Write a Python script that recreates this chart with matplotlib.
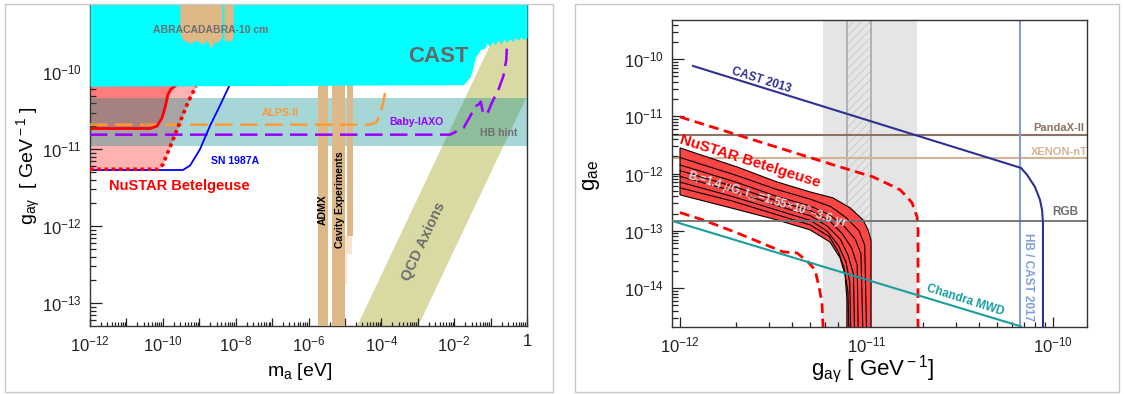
import matplotlib
matplotlib.use("Agg")
import matplotlib.pyplot as plt
import numpy as np
from matplotlib.patches import Rectangle
from matplotlib.ticker import LogLocator, FixedLocator, FuncFormatter, NullFormatter

plt.rcParams["font.family"] = ["Liberation Sans", "DejaVu Sans"]
plt.rcParams["mathtext.fontset"] = "custom"
plt.rcParams["mathtext.rm"] = "Liberation Sans"
plt.rcParams["mathtext.it"] = "Liberation Sans:italic"
plt.rcParams["mathtext.bf"] = "Liberation Sans:bold"
plt.rcParams["hatch.linewidth"] = 0.6

# ---------------- left panel: g_agamma vs m_a (all values log10) ----------------
cast_logm = [-12, -1.75, -1.56, -1.48, -1.42, -1.29, -1.15, -1.1, -1.03, -0.95, -0.88,
             -0.8, -0.72, -0.63, -0.55, -0.47, -0.4, -0.32, -0.25, -0.17, -0.1, 0]
cast_logg = [-10.18, -10.16, -10.06, -9.93, -9.81, -9.71, -9.68, -9.62, -9.66, -9.60, -9.64,
             -9.58, -9.63, -9.57, -9.61, -9.56, -9.60, -9.55, -9.58, -9.54, -9.57, -9.55]

abra_logm_a = [-9.53, -9.45, -9.25, -9.06, -8.92, -8.79, -8.68, -8.62, -8.48, -8.37]
abra_logg_a = [-9.49, -9.58, -9.62, -9.58, -9.64, -9.58, -9.69, -9.62, -9.60, -9.54]
abra_logm_b = [-8.32, -8.15, -8.07]
abra_logg_b = [-9.58, -9.60, -9.54]

nustar_solid_logm = [-12, -10.35, -10.16, -10.02, -9.94, -9.86, -9.78, -9.67]
nustar_solid_logg = [-10.73, -10.73, -10.70, -10.59, -10.46, -10.29, -10.22, -10.18]
nustar_dot_logm = [-12, -10.13, -10.0, -9.75, -9.53, -9.31, -9.09]
nustar_dot_logg = [-11.26, -11.26, -11.2, -10.91, -10.65, -10.39, -10.18]

sn_logm = [-12, -9.45, -9.25, -8.98, -8.70, -8.48, -8.24, -8.13]
sn_logg = [-11.27, -11.27, -11.21, -11.0, -10.69, -10.48, -10.24, -10.13]

alps_logm = [-12, -4.31, -4.14, -4.03, -3.95, -3.87]
alps_logg = [-10.68, -10.68, -10.65, -10.55, -10.39, -10.2]

iaxo_logm = [-12, -2.11, -1.74, -1.56, -1.42, -1.33, -1.27, -1.21, -1.10, -0.96, -0.78,
             -0.65, -0.57, -0.55]
iaxo_logg = [-10.81, -10.81, -10.72, -10.57, -10.44, -10.42, -10.38, -10.52, -10.55, -10.39,
             -10.22, -10.05, -9.84, -9.66]

hb_hint_logg = (-10.96, -10.33)

admx_logm = (-5.74, -5.46)
cavity_logm = (-5.35, -5.0)
cavity2_logm = (-4.94, -4.77)
cavity2_bottom_logg = -12.13
cavity_light_logm = [(-4.93, -4.80), (-5.0, -4.95), (-5.05, -5.0)]
cavity_light_logg = [-12.36, -12.75, -13.2]

qcd_top_logm = [-4.665, 0]
qcd_top_logg = [-13.30, -8.635]
qcd_bot_logm = [-2.99, 0]
qcd_bot_logg = [-13.30, -10.31]

# ---------------- right panel: g_ae vs g_agamma (all values log10) ----------------
gray_band = (-11.233, -10.729)
hatch_band = (-11.105, -10.976)
pandax_logg = -11.326
xenon_logg = -11.728
rgb_logg = -12.822
hb_cast17_logx = -10.177

cast13_logx = [-11.93, -10.172, -10.139, -10.097, -10.070, -10.059, -10.054, -10.054]
cast13_logy = [-10.122, -11.902, -12.024, -12.234, -12.461, -12.635, -12.862, -14.7]

chandra_logx = [-12.03, -10.172]
chandra_logy = [-12.84, -14.67]

proj_hi_logx = [-12.0, -11.142, -10.965, -10.874, -10.820, -10.783, -10.756, -10.729, -10.724, -10.724]
proj_hi_logy = [-11.012, -11.885, -12.059, -12.199, -12.286, -12.408, -12.513, -12.757, -12.984, -14.7]
proj_lo_logx = [-12.0, -11.877, -11.694, -11.448, -11.373, -11.314, -11.276, -11.255, -11.239, -11.233]
proj_lo_logy = [-12.682, -12.810, -13.037, -13.368, -13.386, -13.543, -13.682, -13.979, -14.258, -14.7]

band_up_logx = [-12.0, -11.694, -11.480, -11.303, -11.180, -11.088, -11.019, -10.992, -10.976, -10.976]
band_up_logy = [-11.553, -11.885, -12.147, -12.321, -12.426, -12.600, -12.810, -12.984, -13.16, -14.7]
band_lo_logx = [-12.0, -11.748, -11.480, -11.303, -11.196, -11.142, -11.115, -11.105, -11.105]
band_lo_logy = [-12.373, -12.583, -12.810, -12.984, -13.194, -13.473, -13.770, -14.206, -14.7]

band_inner_logx = [
    [-12.0, -11.70, -11.48, -11.30, -11.19, -11.11, -11.04, -11.01, -11.00],
    [-12.0, -11.70, -11.48, -11.30, -11.20, -11.12, -11.06, -11.03, -11.02],
    [-12.0, -11.70, -11.48, -11.30, -11.20, -11.13, -11.08, -11.05, -11.045],
    [-12.0, -11.70, -11.48, -11.30, -11.21, -11.14, -11.10, -11.07, -11.065],
    [-12.0, -11.72, -11.48, -11.30, -11.21, -11.15, -11.11, -11.09, -11.085],
    [-12.0, -11.72, -11.48, -11.30, -11.20, -11.15, -11.12, -11.10, -11.095],
]
band_inner_logy = [
    [-11.72, -12.03, -12.28, -12.45, -12.58, -12.77, -13.00, -13.25, -14.7],
    [-11.85, -12.15, -12.40, -12.57, -12.72, -12.92, -13.15, -13.40, -14.7],
    [-11.95, -12.24, -12.48, -12.65, -12.82, -13.05, -13.30, -13.60, -14.7],
    [-12.05, -12.32, -12.56, -12.74, -12.92, -13.15, -13.42, -13.75, -14.7],
    [-12.15, -12.40, -12.64, -12.82, -13.01, -13.26, -13.55, -13.90, -14.7],
    [-12.25, -12.48, -12.72, -12.90, -13.10, -13.37, -13.66, -14.05, -14.7],
]

left_xticks = list(range(-12, 1))
left_yticks = [-13, -12, -11, -10]
right_xticks = [-12, -11, -10]
right_yticks = [-14, -13, -12, -11, -10]


def p(v):
    return 10.0 ** np.asarray(v, dtype=float)


W, H = 1124, 394
fig = plt.figure(figsize=(W / 100, H / 100), dpi=100)


def px_axes(left, top, right, bottom):
    return fig.add_axes([left / W, 1 - bottom / H, (right - left) / W, (bottom - top) / H])


# panel frames
for l, r in [(5, 553), (575, 1119)]:
    fig.patches.append(Rectangle((l / W, 1 - 392 / H), (r - l) / W, (392 - 4) / H,
                                 transform=fig.transFigure, fill=False,
                                 edgecolor="#c8c8c8", lw=1.0))


def log_axis_style(ax, xticks, yticks, ylen, xlen):
    for s in ax.spines.values():
        s.set_linewidth(1.0)
        s.set_color("#333333")
    ax.tick_params(which="both", direction="in", top=False, right=False, width=0.9,
                   labelsize=12, colors="#222222")
    ax.tick_params(axis="y", which="major", length=ylen[0], pad=6)
    ax.tick_params(axis="y", which="minor", length=ylen[1])
    ax.tick_params(axis="x", which="major", length=xlen[0], pad=6)
    ax.tick_params(axis="x", which="minor", length=xlen[1])
    ax.xaxis.set_major_locator(FixedLocator(p(xticks)))
    ax.yaxis.set_major_locator(FixedLocator(p(yticks)))
    for a in (ax.xaxis, ax.yaxis):
        a.set_minor_locator(LogLocator(base=10, subs=np.arange(2, 10), numticks=100))
        a.set_minor_formatter(NullFormatter())


def pow_label(v, pos):
    e = int(round(np.log10(v)))
    return r"$10^{%d}$" % e


# ================= left panel =================
ax1 = px_axes(90, 5, 527, 326)
ax1.set_xscale("log")
ax1.set_yscale("log")
ax1.set_xlim(1e-12, 1)
ax1.set_ylim(p(-13.298), p(-9.124))

# QCD axion band
qx = np.concatenate([p(qcd_top_logm), p(qcd_bot_logm)[::-1]])
qy = np.concatenate([p(qcd_top_logg), p(qcd_bot_logg)[::-1]])
ax1.fill(qx, qy, color="#d9d9a3", lw=0, zorder=1)

# NuSTAR Betelgeuse excluded regions
ax1.fill_between(p(nustar_dot_logm), p(nustar_dot_logg), 1e-8, color="red", alpha=0.3, lw=0, zorder=1.2)
ax1.fill_between(p(nustar_solid_logm), p(nustar_solid_logg), 1e-8, color="red", alpha=0.3, lw=0, zorder=1.3)

# HB hint
ax1.axhspan(p(hb_hint_logg[0]), p(hb_hint_logg[1]), color=(0, 0.545, 0.545), alpha=0.35, lw=0, zorder=2)

# haloscopes
tan = "#deb887"
ax1.axvspan(p(admx_logm[0]), p(admx_logm[1]), color=tan, lw=0, zorder=3)
ax1.axvspan(p(cavity_logm[0]), p(cavity_logm[1]), color=tan, lw=0, zorder=3)
ax1.fill_between(p(cavity2_logm), p(cavity2_bottom_logg), 1e-8, color=tan, lw=0, zorder=3)
for (m0, m1), gb in zip(cavity_light_logm, cavity_light_logg):
    ax1.fill_between(p([m0, m1]), p(gb), p(cavity2_bottom_logg), color="#f6e6d0", lw=0, zorder=2.9)

# limit / sensitivity curves
ax1.plot(p(alps_logm), p(alps_logg), color="#ff9933", lw=1.8, dashes=(7, 3), zorder=4)
ax1.plot(p(iaxo_logm), p(iaxo_logg), color="#9900ff", lw=1.8, dashes=(7, 3), zorder=4)
ax1.plot(p(sn_logm), p(sn_logg), color="#0000ff", lw=1.3, zorder=4)
ax1.plot(p(nustar_solid_logm), p(nustar_solid_logg), color="red", lw=2.0, zorder=4.2)
ax1.plot(p(nustar_dot_logm), p(nustar_dot_logg), color="red", lw=2.6,
         linestyle=(0, (1, 1)), zorder=4.2)

# CAST and ABRACADABRA
ax1.fill_between(p(cast_logm), p(cast_logg), 1e-8, color="#00ffff", lw=0, zorder=5)
ax1.fill_between(p(abra_logm_a), p(abra_logg_a), 1e-8, color=tan, lw=0, zorder=6)
ax1.fill_between(p(abra_logm_b), p(abra_logg_b), 1e-8, color=tan, lw=0, zorder=6)

txt = dict(ha="center", va="center", zorder=10, fontweight="bold")
ax1.text(p(-8.68), p(-9.45), "ABRACADABRA-10 cm", color="#6e6e6e", fontsize=7.5, **txt)
ax1.text(p(-2.44), p(-9.80), "CAST", color="#666666", fontsize=16, **txt)
ax1.text(p(-6.78), p(-10.53), "ALPS-II", color="#ff9933", fontsize=7.5, **txt)
ax1.text(p(-3.04), p(-10.65), "Baby-IAXO", color="#9900ff", fontsize=7.5, **txt)
ax1.text(p(-0.79), p(-10.79), "HB hint", color="#6e6e6e", fontsize=7.5, **txt)
ax1.text(p(-8.02), p(-11.155), "SN 1987A", color="#0000ff", fontsize=7.5, **txt)
ax1.text(p(-9.56), p(-11.48), "NuSTAR Betelgeuse", color="red", fontsize=10.5, **txt)
ax1.text(p(-5.60), p(-11.79), "ADMX", color="black", fontsize=7.5, rotation=90, **txt)
ax1.text(p(-5.13), p(-11.65), "Cavity Experiments", color="black", fontsize=7.5, rotation=90, **txt)
ax1.text(p(-2.85), p(-12.2), "QCD Axions", color="#6e6e6e", fontsize=10.5, rotation=65,
         rotation_mode="anchor", **txt)

log_axis_style(ax1, left_xticks, left_yticks, (8.5, 4.3), (5.8, 2.9))


def left_xfmt(v, pos):
    e = int(round(np.log10(v)))
    if e == 0:
        return "1"
    return r"$10^{%d}$" % e if e % 2 == 0 else ""


ax1.xaxis.set_major_formatter(FuncFormatter(left_xfmt))
ax1.yaxis.set_major_formatter(FuncFormatter(pow_label))
ax1.set_xlabel(r"m$_{\rm a}$ [eV]", fontsize=14)
ax1.set_ylabel(r"g$_{\rm a\gamma}$  [ GeV$^{\rm -1}$ ]", fontsize=14)
ax1.xaxis.set_label_coords((300 - 90) / 437, -(371 - 326) / 321)
ax1.xaxis.label.set_va("center")
ax1.yaxis.set_label_coords(-(90 - 29) / 437, 0.5)
ax1.yaxis.label.set_va("center")

# ================= right panel =================
ax2 = px_axes(672, 20, 1087, 327)
ax2.set_xscale("log")
ax2.set_yscale("log")
ax2.set_xlim(p(-12.043), p(-9.818))
ax2.set_ylim(p(-14.68), p(-9.319))

ax2.axvspan(p(gray_band[0]), p(gray_band[1]), color="#e5e5e5", lw=0, zorder=0.2)
ax2.axvspan(p(hatch_band[0]), p(hatch_band[1]), facecolor="none", edgecolor="#c8c8c8",
            hatch="////", lw=0, zorder=0.3)
for e in hatch_band:
    ax2.axvline(p(e), color="#aaaaaa", lw=1.2, zorder=0.4)

ax2.axhline(p(pandax_logg), color="#8c7262", lw=1.5, zorder=1)
ax2.axhline(p(xenon_logg), color="#d4b394", lw=1.5, zorder=1)
ax2.axvline(p(hb_cast17_logx), color="#7f9fdc", lw=1.5, zorder=1)

ax2.plot(p(proj_hi_logx), p(proj_hi_logy), color="red", lw=2.0, dashes=(3.5, 2), zorder=2)
ax2.plot(p(proj_lo_logx), p(proj_lo_logy), color="red", lw=2.0, dashes=(3.5, 2), zorder=2)

bx = np.concatenate([p(band_up_logx), p(band_lo_logx)[::-1]])
by = np.concatenate([p(band_up_logy), p(band_lo_logy)[::-1]])
ax2.fill(bx, by, facecolor="#ff4444", edgecolor="black", lw=0.8, zorder=3)
for lx, ly in zip(band_inner_logx, band_inner_logy):
    ax2.plot(p(lx), p(ly), color="black", lw=0.8, zorder=3.1)

ax2.axhline(p(rgb_logg), color="#6e6e6e", lw=1.3, zorder=3.5)
ax2.plot(p(cast13_logx), p(cast13_logy), color="#2e3192", lw=1.5, zorder=4)
ax2.plot(p(chandra_logx), p(chandra_logy), color="#1a9e9e", lw=1.5, zorder=4)

ax2.text(p(-11.566), p(-10.366), "CAST 2013", color="#2e3192", fontsize=8.5, rotation=-17.3, **txt)
ax2.text(p(-9.97), p(-11.204), "PandaX-II", color="#8c7262", fontsize=8, **txt)
ax2.text(p(-9.965), p(-11.623), "XENON-nT", color="#d4b394", fontsize=8, **txt)
ax2.text(p(-9.936), p(-12.67), "RGB", color="#6e6e6e", fontsize=8.5, **txt)
ax2.text(p(-10.134), p(-13.80), "HB / CAST 2017", color="#7f9fdc", fontsize=8.5, rotation=-90, **txt)
ax2.text(p(-10.472), p(-14.206), "Chandra MWD", color="#1a9e9e", fontsize=8.5, rotation=-17.5, **txt)
ax2.text(p(-11.625), p(-11.78), "NuSTAR Betelgeuse", color="red", fontsize=11, rotation=-17.5, **txt)
ax2.text(p(-11.534), p(-12.46),
         r"B$_{\rm t}$=1.4 $\mu$G, t$_{\rm cc}$=1.55$\times$10$^{5}$$-$3.6 yr",
         color="#dcdcdc", fontsize=8.5, rotation=-17, **txt)

log_axis_style(ax2, right_xticks, right_yticks, (8.5, 4.3), (7, 3.6))
ax2.xaxis.set_major_formatter(FuncFormatter(pow_label))
ax2.yaxis.set_major_formatter(FuncFormatter(pow_label))
ax2.set_xlabel(r"g$_{\rm a\gamma}$ [ GeV$^{\rm -1}$]", fontsize=16)
ax2.set_ylabel(r"g$_{\rm ae}$", fontsize=16)
ax2.xaxis.set_label_coords((873 - 672) / 415, -(369 - 327) / 307)
ax2.xaxis.label.set_va("center")
ax2.yaxis.set_label_coords(-(672 - 592) / 415, (327 - 175) / 307)
ax2.yaxis.label.set_va("center")

fig.savefig("out.png", dpi=100)
